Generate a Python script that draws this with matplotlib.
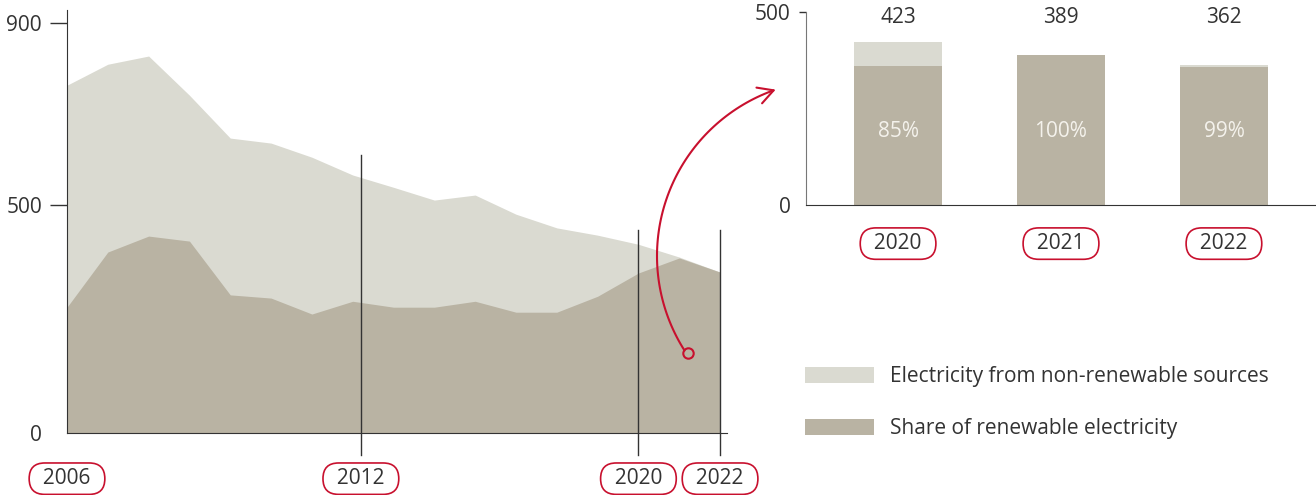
#!/usr/bin/env python3
"""Electricity consumption: area chart 2006-2022 plus renewable share bars."""
import numpy as np
import matplotlib

matplotlib.use("Agg")
import matplotlib.pyplot as plt
from matplotlib.patches import Patch, FancyArrowPatch
from matplotlib.path import Path
from matplotlib.transforms import IdentityTransform

# area chart data (GWh)
years = list(range(2006, 2023))
total = [763, 809, 827, 741, 647, 636, 605, 566, 539, 511, 522, 480, 450, 434, 414, 386, 353]
renewable = [276, 397, 432, 421, 303, 296, 261, 289, 276, 276, 289, 265, 265, 300, 351, 384, 353]

# highlighted years under the area chart (label, position on the axis)
marker_labels = ["2006", "2012", "2020", "2022"]
marker_pos = [2006, 2013.2, 2020, 2022]
marker_top = [None, 0.657, 0.48, 0.48]

# bar chart data
bar_years = ["2020", "2021", "2022"]
bar_totals = [423, 389, 362]
bar_share = [0.85, 1.00, 0.99]

LIGHT = "#dadad1"
DARK = "#b9b3a3"
RED = "#c8102e"
TEXT = "#333333"

plt.rcParams.update(
    {
        "font.family": ["Open Sans", "DejaVu Sans"],
        "font.size": 15,
        "text.color": TEXT,
        "xtick.color": TEXT,
        "ytick.color": TEXT,
    }
)

fig = plt.figure(figsize=(13.16, 4.95), dpi=100)
box = dict(boxstyle="round,pad=0.25,rounding_size=0.75", fc="white", ec=RED, lw=1.2)


def pill(lab):
    return f"\u2009 {lab} \u2009"


# ---- left: area chart
ax = fig.add_axes([67 / 1316, 62 / 495, 660 / 1316, 423 / 495])
ax.fill_between(years, 0, total, color=LIGHT, lw=0)
ax.fill_between(years, 0, renewable, color=DARK, lw=0)
ax.set_xlim(2006, 2022.17)
ax.set_ylim(0, 928)
ax.set_yticks([0, 500, 900])
ax.tick_params(axis="y", length=12, width=1, pad=6, labelsize=15)
ax.yaxis.get_major_ticks()[0].tick1line.set_visible(False)
ax.set_xticks([])
for s in ["top", "right"]:
    ax.spines[s].set_visible(False)
ax.spines["left"].set_color(TEXT)
ax.spines["bottom"].set_color(TEXT)

for lab, pos, top in zip(marker_labels, marker_pos, marker_top):
    if top is not None:
        ax.axvline(pos, ymin=-0.052, ymax=top, color=TEXT, lw=1, clip_on=False)
    ax.text(pos, -0.108, pill(lab), transform=ax.get_xaxis_transform(),
            ha="center", va="center", fontsize=15, bbox=box)

# red arc from 2021 over to the bar chart (circular arc in figure pixels)
ax.plot([2021.22], [175], marker="o", ms=7.5, mfc="none", mec=RED, mew=1.5)
theta = np.radians(np.linspace(212.5, 109, 80))
arc = np.column_stack([833 + 176 * np.cos(theta), 239 + 176 * np.sin(theta)])
fig.patches.append(
    FancyArrowPatch(
        path=Path(arc), transform=IdentityTransform(), color=RED, lw=1.5,
        arrowstyle="->,head_length=11,head_width=6", figure=fig,
    )
)

# ---- right: bar chart
bx = fig.add_axes([806 / 1316, 290 / 495, 510 / 1316, 193 / 495])
xs = range(len(bar_years))
ren = [t * s for t, s in zip(bar_totals, bar_share)]
bx.bar(xs, bar_totals, width=0.54, color=LIGHT, lw=0)
bx.bar(xs, ren, width=0.54, color=DARK, lw=0)
bx.set_xlim(-0.565, 2.565)
bx.set_ylim(0, 500)
bx.set_yticks([0, 500])
bx.tick_params(axis="y", length=5, width=1, pad=6, labelsize=15)
bx.yaxis.get_major_ticks()[0].tick1line.set_visible(False)
bx.set_xticks([])
for s in ["top", "right"]:
    bx.spines[s].set_visible(False)
bx.spines["left"].set_color("#777777")
bx.spines["bottom"].set_color(TEXT)
for i in xs:
    bx.text(i, 486, f"{bar_totals[i]}", ha="center", va="center", fontsize=15)
    bx.text(i, 190, f"{round(bar_share[i] * 100)}%", ha="center", va="center",
            fontsize=15, color="#f4f2ec")
    bx.text(i, -0.2, pill(bar_years[i]), transform=bx.get_xaxis_transform(),
            ha="center", va="center", fontsize=15, bbox=box)

# ---- legend
handles = [Patch(color=LIGHT, lw=0), Patch(color=DARK, lw=0)]
fig.legend(
    handles, ["Electricity from non-renewable sources", "Share of renewable electricity"],
    loc="upper left", bbox_to_anchor=(805 / 1316, 1 - 366 / 495), frameon=False,
    borderaxespad=0, borderpad=0, handlelength=3.3, handleheight=0.8,
    handletextpad=0.8, labelspacing=1.5, fontsize=15,
)

fig.savefig("out.png", dpi=100)
